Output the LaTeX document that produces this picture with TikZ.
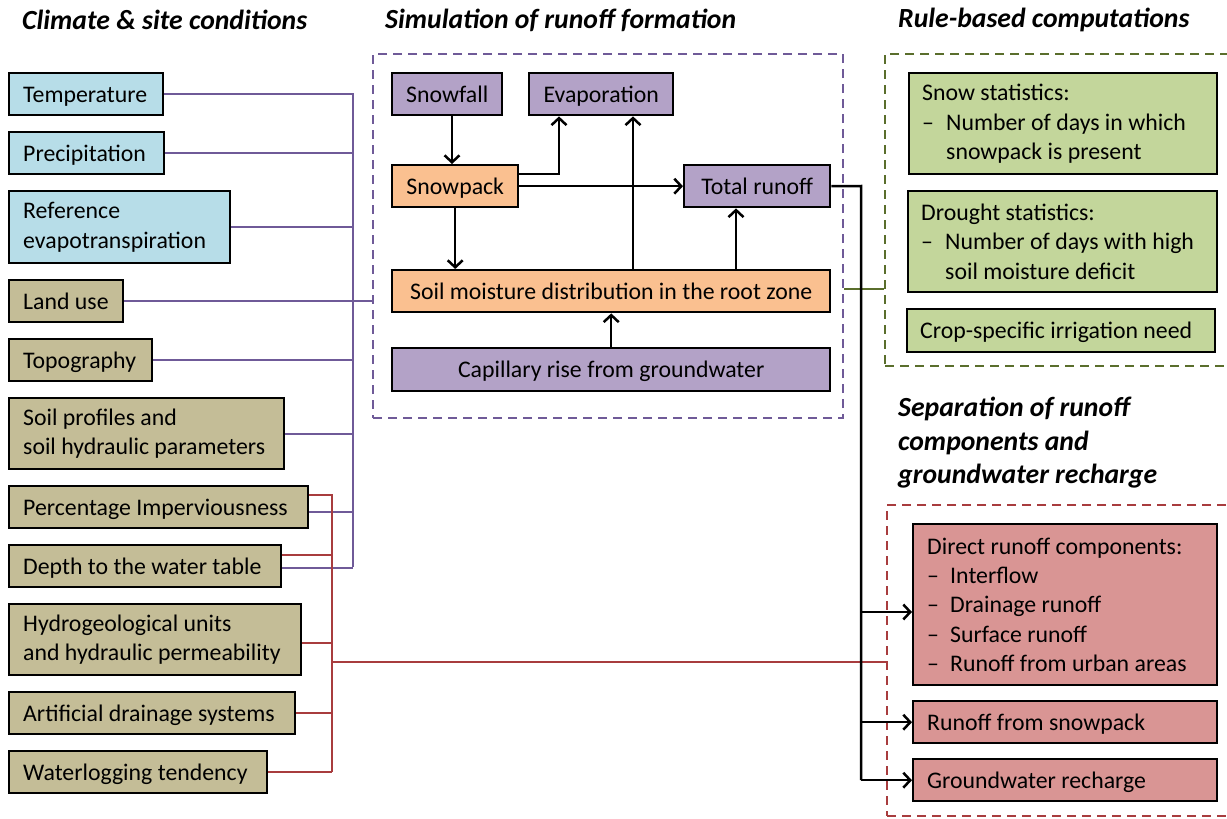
\documentclass[tikz,border=0pt]{standalone}
\usepackage{fontspec}
\setmainfont{Carlito}
\usetikzlibrary{arrows.meta}
\definecolor{cblue}{HTML}{B7DDE8}
\definecolor{ctan}{HTML}{C4BD97}
\definecolor{cpur}{HTML}{B3A2C7}
\definecolor{corg}{HTML}{FAC090}
\definecolor{cgrn}{HTML}{C3D69B}
\definecolor{cred}{HTML}{D99594}
\definecolor{lpur}{HTML}{6F5A98}
\definecolor{lred}{HTML}{A83C3E}
\definecolor{lgrn}{HTML}{5A6E2C}
\tikzset{
  bx/.style={draw=black, line width=2.4pt, anchor=north west, inner ysep=0pt},
  lb/.style={bx, align=flush left, inner xsep=14pt},
  cb/.style={bx, align=center, inner xsep=0pt},
  one/.style={text height=22pt, text depth=6pt},
  dbox/.style={draw, line width=2.3pt, dash pattern=on 9pt off 6pt, anchor=north west, inner sep=0pt},
  pline/.style={draw=lpur, line width=2.3pt},
  rline/.style={draw=lred, line width=2.3pt},
  gline/.style={draw=lgrn, line width=2.3pt},
  bline/.style={draw=black, line width=2.5pt},
  arr/.style={bline, -{Straight Barb[length=7pt,width=15pt,line width=2.5pt]}},
  ttl/.style={font=\fontsize{27.7}{33.5}\selectfont\bfseries\itshape, inner sep=0pt},
}
\begin{document}
\begin{tikzpicture}[x=1pt,y=-1pt,every node/.style={font=\fontsize{23.8}{29.3}\selectfont}]
\clip (0,0) rectangle (1227,819);
\fill[white] (0,0) rectangle (1227,819);

% titles
\node[ttl, anchor=west] (t1) at (22,20) {Climate \& site conditions};
\node[ttl, anchor=west] (t2) at (385,20) {Simulation of runoff formation};
\node[ttl, anchor=west] (t3) at (898,20) {Rule-based computations};
\node[ttl, anchor=north west, align=flush left] (t4) at (898,397) {Separation of runoff\\components and\\groundwater recharge};

% dashed frames
\node[dbox, draw=lpur, minimum width=470pt, minimum height=364pt] (simbox) at (372,53) {};
\node[dbox, draw=lgrn, minimum width=361pt, minimum height=312pt] (rulebox) at (884,53) {};
\node[dbox, draw=lred, minimum width=359pt, minimum height=311pt] (sepbox) at (886,504) {};

% left column
\node[lb, one, fill=cblue, minimum width=154pt, text width=126pt, minimum height=42pt] (temp) at (8,72) {Temperature};
\node[lb, one, fill=cblue, minimum width=155pt, text width=127pt, minimum height=42pt] (prec) at (8,131) {Precipitation};
\node[lb, fill=cblue, minimum width=221pt, text width=193pt, minimum height=72pt] (ref) at (8,190) {Reference\\evapotranspiration};
\node[lb, one, fill=ctan, minimum width=114pt, text width=86pt, minimum height=42pt] (land) at (8,279) {Land use};
\node[lb, one, fill=ctan, minimum width=143pt, text width=115pt, minimum height=42pt] (topo) at (8,338) {Topography};
\node[lb, fill=ctan, minimum width=275pt, text width=247pt, minimum height=71pt] (soilp) at (8,397) {Soil profiles and\\soil hydraulic parameters};
\node[lb, one, fill=ctan, minimum width=299pt, text width=271pt, minimum height=42pt] (imp) at (8,485) {Percentage Imperviousness};
\node[lb, one, fill=ctan, minimum width=272pt, text width=244pt, minimum height=42pt] (depth) at (8,544) {Depth to the water table};
\node[lb, fill=ctan, minimum width=292pt, text width=264pt, minimum height=71pt] (hydro) at (8,603) {Hydrogeological units\\and hydraulic permeability};
\node[lb, one, fill=ctan, minimum width=286pt, text width=258pt, minimum height=42pt] (drain) at (8,691) {Artificial drainage systems};
\node[lb, one, fill=ctan, minimum width=258pt, text width=230pt, minimum height=42pt] (wlog) at (8,750) {Waterlogging tendency};

% middle
\node[cb, one, fill=cpur, minimum width=110pt, minimum height=42pt] (snowfall) at (391,72) {Snowfall};
\node[cb, one, fill=cpur, minimum width=144pt, minimum height=42pt] (evap) at (528,72) {Evaporation};
\node[cb, one, fill=corg, minimum width=126pt, minimum height=42pt] (snowpack) at (391,164) {Snowpack};
\node[cb, one, fill=cpur, minimum width=146pt, minimum height=42pt] (totrun) at (683,164) {Total runoff};
\node[cb, one, fill=corg, minimum width=438pt, minimum height=42pt] (soilm) at (391,269) {Soil moisture distribution in the root zone};
\node[cb, one, fill=cpur, minimum width=438pt, minimum height=43pt] (cap) at (391,347) {Capillary rise from groundwater};

% green
\node[lb, fill=cgrn, inner xsep=13pt, minimum width=308pt, text width=282pt, minimum height=101pt] (snowst) at (908,72)
  {Snow statistics:\\\makebox[24pt][l]{--}Number of days in which\\\hspace*{24pt}snowpack is present};
\node[lb, fill=cgrn, inner xsep=13pt, minimum width=309pt, text width=283pt, minimum height=101pt] (drought) at (907,190)
  {Drought statistics:\\\makebox[24pt][l]{--}Number of days with high\\\hspace*{24pt}soil moisture deficit};
\node[lb, one, fill=cgrn, inner xsep=13pt, minimum width=308pt, text width=282pt, minimum height=43pt] (crop) at (906,308) {Crop-specific irrigation need};

% red
\node[lb, fill=cred, minimum width=304pt, text width=276pt, minimum height=161pt] (direct) at (912,523)
  {Direct runoff components:\\\makebox[23pt][l]{--}Interflow\\\makebox[23pt][l]{--}Drainage runoff\\\makebox[23pt][l]{--}Surface runoff\\\makebox[23pt][l]{--}Runoff from urban areas};
\node[lb, one, fill=cred, minimum width=304pt, text width=276pt, minimum height=42pt] (snowrun) at (912,700) {Runoff from snowpack};
\node[lb, one, fill=cred, minimum width=304pt, text width=276pt, minimum height=42pt] (gw) at (912,758) {Groundwater recharge};

% purple bus
\coordinate (pbT) at (353,93);
\coordinate (pbB) at (353,567);
\draw[pline] (pbT) -- (pbB);
\draw[pline] (temp.east) -- (temp.east -| pbT);
\draw[pline] (prec.east) -- (prec.east -| pbT);
\draw[pline] (ref.east) -- (ref.east -| pbT);
\draw[pline] (land.east) -- (land.east -| simbox.west);
\draw[pline] (topo.east) -- (topo.east -| pbT);
\draw[pline] (soilp.east) -- (soilp.east -| pbT);
\draw[pline] ([yshift=-5pt]imp.east) -- ([yshift=-5pt]imp.east -| pbT);
\draw[pline] ([yshift=-2pt]depth.east) -- ([yshift=-2pt]depth.east -| pbT);

% red bus
\coordinate (rbT) at (332,494);
\coordinate (rbB) at (332,772);
\coordinate (rbM) at (332,662);
\draw[rline] (rbT) -- (rbB);
\draw[rline] ([yshift=12pt]imp.east) -- ([yshift=12pt]imp.east -| rbT);
\draw[rline] ([yshift=11pt]depth.east) -- ([yshift=11pt]depth.east -| rbT);
\draw[rline] ([yshift=-3pt]hydro.east) -- ([yshift=-3pt]hydro.east -| rbT);
\draw[rline] (drain.east) -- (drain.east -| rbT);
\draw[rline] (wlog.east) -- (wlog.east -| rbT);
\draw[rline] (rbM) -- (rbM -| sepbox.west);

% green link
\draw[gline] ([yshift=2pt]soilm.east -| simbox.east) -- ([yshift=2pt]soilm.east -| rulebox.west);

% middle arrows
\draw[arr] ([xshift=61pt]snowfall.south west) -- ([xshift=61pt]snowfall.south west |- snowpack.north);
\draw[arr] ([yshift=12pt]snowpack.east) -| ([xshift=31pt]evap.south west);
\draw[arr] (snowpack.east) -- (totrun.west);
\draw[arr] (snowpack.south) -- (snowpack.south |- soilm.north);
\draw[arr] ([xshift=242pt]soilm.north west) -- ([xshift=242pt]soilm.north west |- evap.south);
\draw[arr] ([xshift=345pt]soilm.north west) -- ([xshift=345pt]soilm.north west |- totrun.south);
\draw[arr] (cap.north) -- (soilm.south);

% total runoff to separation
\coordinate (tj) at (861,186);
\coordinate (dj) at (861,612);
\draw[bline] (totrun.east) -- (tj) -- (tj |- gw.west);
\draw[arr] (dj) -- (dj -| direct.west);
\draw[arr] (tj |- snowrun.west) -- (snowrun.west);
\draw[arr] (tj |- gw.west) -- (gw.west);
\end{tikzpicture}
\end{document}
